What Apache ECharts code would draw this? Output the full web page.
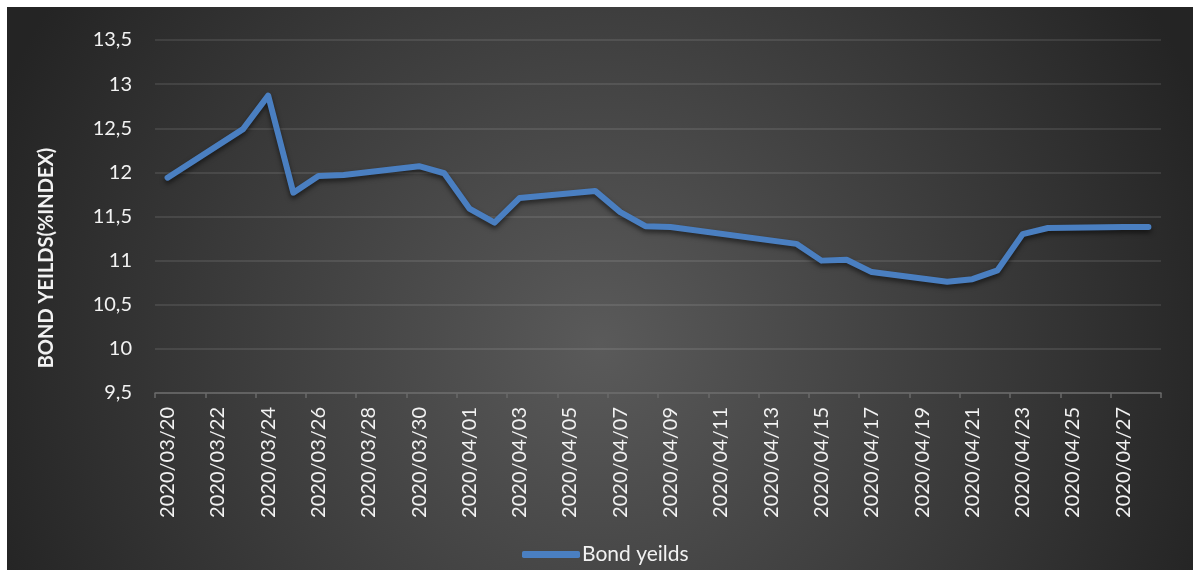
<!DOCTYPE html>
<html>
<head>
<meta charset="utf-8">
<script src="https://cdn.jsdelivr.net/npm/echarts@6/dist/echarts.min.js"></script>
<style>
  html, body { margin: 0; padding: 0; background: #ffffff; width: 1193px; height: 570px; overflow: hidden; }
  #chart { position: absolute; left: 7px; top: 7px; width: 1186px; height: 563px; }
</style>
</head>
<body>
<div id="chart"></div>
<script>
// Calendar days shown on the category axis (one band per day)
const categories = [
  '2020/03/20','2020/03/21','2020/03/22','2020/03/23','2020/03/24','2020/03/25','2020/03/26','2020/03/27',
  '2020/03/28','2020/03/29','2020/03/30','2020/03/31','2020/04/01','2020/04/02','2020/04/03','2020/04/04',
  '2020/04/05','2020/04/06','2020/04/07','2020/04/08','2020/04/09','2020/04/10','2020/04/11','2020/04/12',
  '2020/04/13','2020/04/14','2020/04/15','2020/04/16','2020/04/17','2020/04/18','2020/04/19','2020/04/20',
  '2020/04/21','2020/04/22','2020/04/23','2020/04/24','2020/04/25','2020/04/26','2020/04/27','2020/04/28'
];
// Bond yields (null = no observation that day)
const bondYields = [
  11.94, null, null, 12.49, 12.87, 11.77, 11.96, 11.97,
  null, null, 12.07, 11.99, 11.59, 11.43, 11.71, null,
  null, 11.79, 11.55, 11.39, 11.38, null, null, null,
  null, 11.19, 11.00, 11.01, 10.87, null, null, 10.76,
  10.79, 10.89, 11.30, 11.37, null, null, 11.38, 11.38
];
const seriesName = 'Bond yeilds';
const yAxisTitle = 'BOND YEILDS(%INDEX)';
const yMin = 9.5, yMax = 13.5, yStep = 0.5;

const chart = echarts.init(document.getElementById('chart'));
const FONT = 'Lato';
chart.setOption({
  backgroundColor: {
    type: 'radial', x: 0.5, y: 0.6, r: 1.15,
    colorStops: [
      { offset: 0, color: '#5a5a5a' },
      { offset: 1, color: '#242424' }
    ]
  },
  animation: false,
  grid: { left: 148, right: 32, top: 33, bottom: 177, containLabel: false },
  legend: {
    data: [seriesName],
    left: 510, top: 532,
    icon: 'roundRect', itemWidth: 58, itemHeight: 7, itemGap: 10,
    textStyle: { color: '#f2f2f2', fontSize: 21, fontFamily: FONT, padding: [0, 0, 0, -3] }
  },
  xAxis: {
    type: 'category',
    data: categories,
    boundaryGap: true,
    axisLine: { show: true, lineStyle: { color: '#6a6a6a', width: 1.5 } },
    axisTick: { show: true, interval: 1, length: 5, lineStyle: { color: '#6a6a6a', width: 1.5 } },
    axisLabel: {
      interval: 1, rotate: 90, margin: 14,
      color: '#f2f2f2', fontSize: 20, fontFamily: FONT
    },
    splitLine: { show: false }
  },
  yAxis: {
    type: 'value',
    min: yMin, max: yMax, interval: yStep,
    axisLine: { show: false },
    axisTick: { show: false },
    axisLabel: {
      margin: 23, color: '#f2f2f2', fontSize: 20, fontFamily: FONT,
      formatter: v => String(v).replace('.', ',')
    },
    splitLine: { show: true, lineStyle: { color: 'rgba(255,255,255,0.13)', width: 1.5 } }
  },
  graphic: [{
    type: 'text',
    x: 40, y: 251,
    rotation: Math.PI / 2,
    style: {
      text: yAxisTitle,
      fill: '#f2f2f2',
      font: 'bold 20px ' + FONT,
      textAlign: 'center',
      textVerticalAlign: 'middle'
    }
  }],
  series: [{
    name: seriesName,
    type: 'line',
    data: bondYields,
    connectNulls: true,
    symbol: 'none',
    lineStyle: {
      color: '#4a7fc1', width: 6, cap: 'round', join: 'round',
      shadowColor: 'rgba(0,0,0,0.55)', shadowBlur: 5, shadowOffsetY: 3
    },
    itemStyle: { color: '#4a7fc1' }
  }]
});
</script>
</body>
</html>
